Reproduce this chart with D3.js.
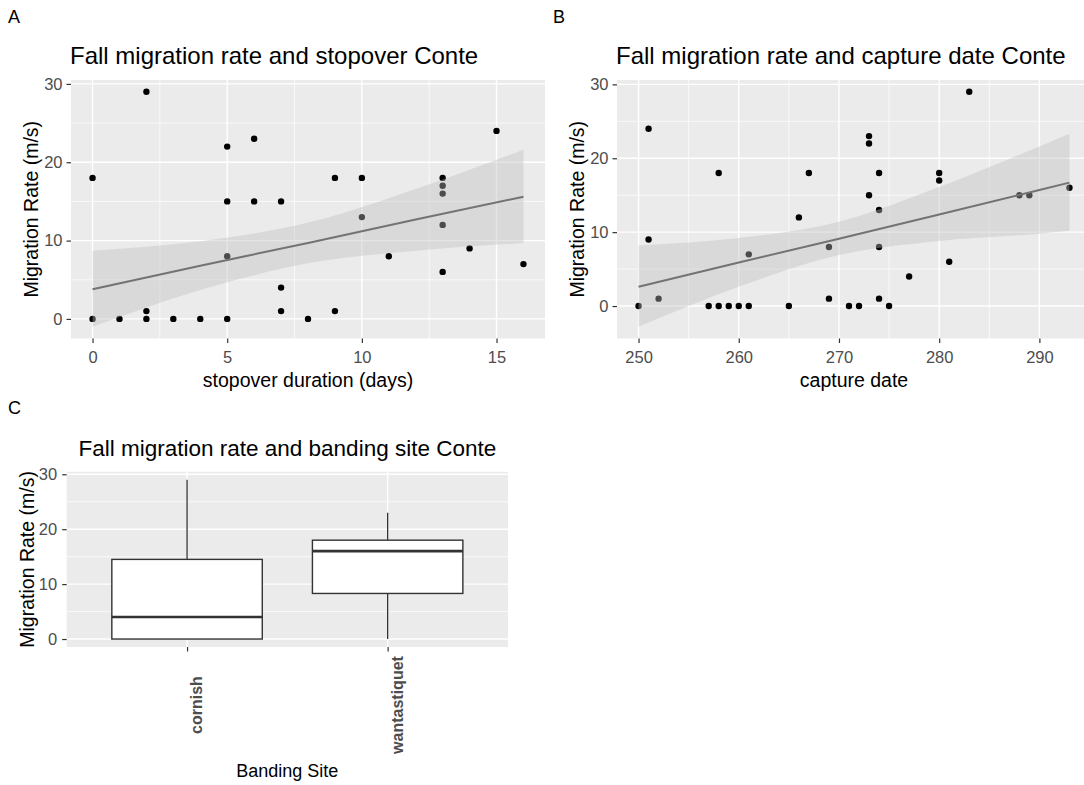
<!DOCTYPE html>
<html lang="en">
<head>
  <meta charset="UTF-8">
  <title>Fall migration rate – Conte</title>
  <script src="https://d3js.org/d3.v7.min.js"></script>
  <style>
    body { margin: 0; padding: 0; background: #fff; }
    svg { display: block; font-family: "Liberation Sans", Arial, sans-serif; }
  </style>
</head>
<body>
  <div id="chart"></div>
  <script>
    // --- data ---
    // panel A: stopover duration (days) vs migration rate
    const stopoverDays = [0, 0, 1, 2, 2, 2, 3, 4, 5, 5, 5, 5, 6, 6, 7, 7, 7, 8, 9, 9, 10, 10, 11, 13, 13, 13, 13, 13, 14, 15, 16];
    const stopoverRate = [18, 0, 0, 29, 1, 0, 0, 0, 22, 15, 8, 0, 23, 15, 15, 4, 1, 0, 18, 1, 18, 13, 8, 18, 17, 16, 12, 6, 9, 24, 7];

    // lm fit + 95% band, panel A
    const fitAx  = [0, 4, 8, 12, 16];
    const fitAy  = [3.8, 6.8, 9.7, 12.7, 15.6];
    const fitAlo = [-1.0, 3.7, 7.1, 8.7, 9.7];
    const fitAhi = [8.7, 9.9, 12.3, 16.6, 21.6];

    // panel B: capture date (day of year) vs migration rate
    const captureDate = [250, 251, 251, 252, 257, 258, 258, 259, 260, 261, 261, 265, 266, 267, 269, 269, 271, 272,
                         273, 273, 273, 274, 274, 274, 274, 275, 277, 280, 280, 281, 283, 288, 289, 293];
    const captureRate = [0, 24, 9, 1, 0, 18, 0, 0, 0, 7, 0, 0, 12, 18, 8, 1, 0, 0,
                         23, 22, 15, 18, 13, 8, 1, 0, 4, 18, 17, 6, 29, 15, 15, 16];

    const fitBx  = [250, 260, 270, 280, 290, 293];
    const fitBy  = [2.6, 5.9, 9.1, 12.4, 15.7, 16.7];
    const fitBlo = [-2.8, 2.6, 6.9, 8.8, 9.8, 10.2];
    const fitBhi = [8.2, 9.2, 11.4, 16.1, 21.6, 23.3];

    // panel C: box plot by banding site
    const sites   = ["cornish", "wantastiquet"];
    const boxLow  = [0, 0];
    const boxQ1   = [0, 8.3];
    const boxMed  = [4, 16];
    const boxQ3   = [14.5, 18];
    const boxHigh = [29, 23];

    const xTicksA = [0, 5, 10, 15];
    const xMinorA = [2.5, 7.5, 12.5];
    const xTicksB = [250, 260, 270, 280, 290];
    const xMinorB = [255, 265, 275, 285, 295];
    const yTicks  = [0, 10, 20, 30];
    const yMinor  = [5, 15, 25];

    // --- drawing ---
    const W = 1084, H = 785;
    const svg = d3.create("svg").attr("width", W).attr("height", H);
    svg.append("rect").attr("width", W).attr("height", H).attr("fill", "#fff");

    const tickSize = 16.5, axisTitleSize = 19.5;

    function expand(lo, hi) {
      const d = (hi - lo) * 0.05;
      return [lo - d, hi + d];
    }

    // grey panel with white grid
    function frame(box, x, y, xMajor, xMinor, yMajor, yMinorT) {
      const g = svg.append("g");
      g.append("rect")
        .attr("x", box.left).attr("y", box.top)
        .attr("width", box.right - box.left).attr("height", box.bottom - box.top)
        .attr("fill", "#ebebeb");
      const inX = v => v >= x.domain()[0] && v <= x.domain()[1];
      const inY = v => v >= y.domain()[0] && v <= y.domain()[1];
      g.selectAll(null).data(yMinorT.filter(inY)).join("line")
        .attr("x1", box.left).attr("x2", box.right)
        .attr("y1", d => y(d)).attr("y2", d => y(d))
        .attr("stroke", "#fff").attr("stroke-width", 0.7);
      g.selectAll(null).data(xMinor.filter(inX)).join("line")
        .attr("y1", box.top).attr("y2", box.bottom)
        .attr("x1", d => x(d)).attr("x2", d => x(d))
        .attr("stroke", "#fff").attr("stroke-width", 0.7);
      g.selectAll(null).data(yMajor).join("line")
        .attr("x1", box.left).attr("x2", box.right)
        .attr("y1", d => y(d)).attr("y2", d => y(d))
        .attr("stroke", "#fff").attr("stroke-width", 1.4);
      g.selectAll(null).data(xMajor).join("line")
        .attr("y1", box.top).attr("y2", box.bottom)
        .attr("x1", d => x(d)).attr("x2", d => x(d))
        .attr("stroke", "#fff").attr("stroke-width", 1.4);
      return g;
    }

    function axes(box, x, y, xMajor, xLabels, yMajor, xTitle, opt) {
      const ya = svg.append("g").attr("transform", `translate(${box.left},0)`)
        .call(d3.axisLeft(y).tickValues(yMajor).tickSize(4.5).tickPadding(opt.yPad));
      const xa = svg.append("g").attr("transform", `translate(0,${box.bottom})`)
        .call(d3.axisBottom(x).tickValues(xMajor).tickSize(4.5).tickPadding(8.5)
          .tickFormat((d, i) => xLabels[i]));
      [xa, ya].forEach(a => {
        a.attr("font-size", tickSize).attr("font-family", "Liberation Sans, Arial, sans-serif");
        a.select(".domain").remove();
        a.selectAll(".tick line").attr("stroke", "#333").attr("stroke-width", 1.2);
        a.selectAll(".tick text").attr("fill", "#4d4d4d");
      });
      if (opt.rotate) {
        xa.selectAll(".tick text")
          .attr("text-anchor", "middle")
          .attr("dy", "0.35em")
          .attr("y", 0)
          .attr("font-size", 16)
          .attr("font-weight", "bold")
          .attr("transform", "translate(9,58) rotate(-90)");
      }
      svg.append("text")
        .attr("x", (box.left + box.right) / 2).attr("y", box.titleY)
        .attr("text-anchor", "middle").attr("font-size", opt.xTitleSize).attr("fill", "#000")
        .text(xTitle);
      svg.append("text")
        .attr("transform", `translate(${box.yLabX},${(box.top + box.bottom) / 2}) rotate(-90)`)
        .attr("text-anchor", "middle").attr("font-size", axisTitleSize).attr("fill", "#000")
        .text("Migration Rate (m/s)");
    }

    function scatter(box, xs, ys, fx, fy, flo, fhi, xMajor, xMinor, xTitle, title, letter) {
      const x = d3.scaleLinear()
        .domain(expand(d3.min(xs.concat(fx)), d3.max(xs.concat(fx))))
        .range([box.left, box.right]);
      const y = d3.scaleLinear()
        .domain(expand(d3.min(ys.concat(flo)), d3.max(ys.concat(fhi))))
        .range([box.bottom, box.top]);

      frame(box, x, y, xMajor, xMinor, yTicks, yMinor);

      const clip = "clip" + letter;
      svg.append("clipPath").attr("id", clip).append("rect")
        .attr("x", box.left).attr("y", box.top)
        .attr("width", box.right - box.left).attr("height", box.bottom - box.top);
      const g = svg.append("g").attr("clip-path", `url(#${clip})`);

      g.selectAll(null).data(xs).join("circle")
        .attr("cx", d => x(d)).attr("cy", (d, i) => y(ys[i]))
        .attr("r", 3.2).attr("fill", "#000");

      const band = fx.map((d, i) => ({ x: d, y: fy[i], lo: flo[i], hi: fhi[i] }));
      g.append("path").datum(band)
        .attr("fill", "#bdbdbd").attr("fill-opacity", 0.4)
        .attr("d", d3.area().curve(d3.curveMonotoneX)
          .x(d => x(d.x)).y0(d => y(d.lo)).y1(d => y(d.hi)));
      g.append("path").datum(band)
        .attr("fill", "none").attr("stroke", "#737373").attr("stroke-width", 2)
        .attr("d", d3.line().x(d => x(d.x)).y(d => y(d.y)));

      axes(box, x, y, xMajor, xMajor, yTicks, xTitle, { yPad: 4, xTitleSize: axisTitleSize, rotate: false });

      svg.append("text").attr("x", box.left - 1).attr("y", 64)
        .attr("font-size", 24).attr("fill", "#000").text(title);
      svg.append("text").attr("x", box.letterX).attr("y", 22.7)
        .attr("font-size", 18).attr("fill", "#000").text(letter);
    }

    scatter({ left: 71, right: 545, top: 80, bottom: 338.5, titleY: 386.7, yLabX: 38, letterX: 8 },
      stopoverDays, stopoverRate, fitAx, fitAy, fitAlo, fitAhi,
      xTicksA, xMinorA, "stopover duration (days)",
      "Fall migration rate and stopover Conte", "A");

    scatter({ left: 617, right: 1091, top: 80, bottom: 338.5, titleY: 386.7, yLabX: 584, letterX: 553 },
      captureDate, captureRate, fitBx, fitBy, fitBlo, fitBhi,
      xTicksB, xMinorB, "capture date",
      "Fall migration rate and capture date Conte", "B");

    // panel C: box plot
    (function () {
      const box = { left: 66.7, right: 508, top: 471.8, bottom: 647, titleY: 776.7, yLabX: 34 };
      const pos = sites.map((d, i) => i + 1);
      const x = d3.scaleLinear().domain([0.4, sites.length + 0.6]).range([box.left, box.right]);
      const y = d3.scaleLinear()
        .domain(expand(d3.min(boxLow), d3.max(boxHigh)))
        .range([box.bottom, box.top]);

      frame(box, x, y, pos, [], yTicks, yMinor);

      const hw = 0.375;
      const g = svg.append("g").attr("stroke", "#333").attr("fill", "none");
      pos.forEach((p, i) => {
        g.append("line").attr("x1", x(p)).attr("x2", x(p))
          .attr("y1", y(boxQ3[i])).attr("y2", y(boxHigh[i])).attr("stroke-width", 1.3);
        g.append("line").attr("x1", x(p)).attr("x2", x(p))
          .attr("y1", y(boxQ1[i])).attr("y2", y(boxLow[i])).attr("stroke-width", 1.3);
        g.append("rect")
          .attr("x", x(p - hw)).attr("width", x(p + hw) - x(p - hw))
          .attr("y", y(boxQ3[i])).attr("height", y(boxQ1[i]) - y(boxQ3[i]))
          .attr("fill", "#fff").attr("stroke-width", 1.4);
        g.append("line").attr("x1", x(p - hw)).attr("x2", x(p + hw))
          .attr("y1", y(boxMed[i])).attr("y2", y(boxMed[i])).attr("stroke-width", 2.6);
      });

      axes(box, x, y, pos, sites, yTicks, "Banding Site", { yPad: 5, xTitleSize: 18, rotate: true });

      svg.append("text").attr("x", (box.left + box.right) / 2).attr("y", 456)
        .attr("text-anchor", "middle").attr("font-size", 22.5).attr("fill", "#000")
        .text("Fall migration rate and banding site Conte");
      svg.append("text").attr("x", 8).attr("y", 414)
        .attr("font-size", 18).attr("fill", "#000").text("C");
    })();

    document.getElementById("chart").appendChild(svg.node());
  </script>
</body>
</html>
